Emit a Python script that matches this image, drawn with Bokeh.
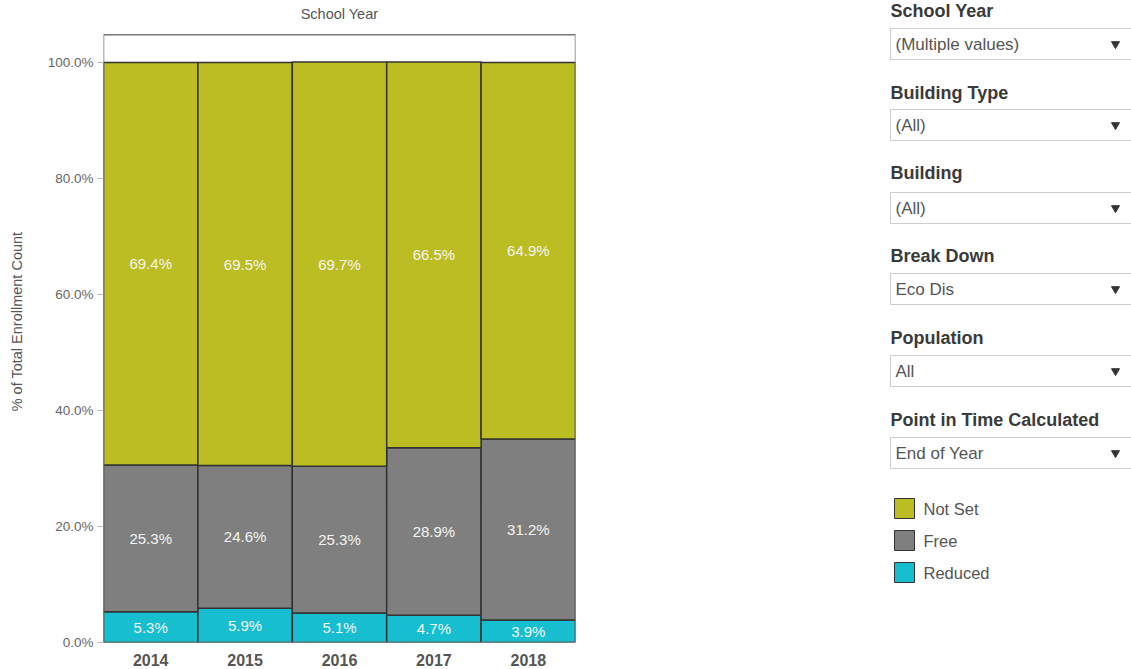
from bokeh.plotting import figure
from bokeh.models import FactorRange, Range1d, FixedTicker, PrintfTickFormatter, ColumnDataSource, BoxAnnotation
from bokeh.layouts import row
from bokeh.core.properties import value
from bokeh.embed import file_html
from bokeh.resources import INLINE

# ---- data ----
years = ["2014", "2015", "2016", "2017", "2018"]
reduced = [5.3, 5.9, 5.1, 4.7, 3.9]
free = [25.3, 24.6, 25.3, 28.9, 31.2]
not_set = [69.4, 69.5, 69.7, 66.5, 64.9]
series = ["Reduced", "Free", "Not Set"]
colors = ["#17becf", "#7f7f7f", "#bcbd22"]
y_ticks = [0, 20, 40, 60, 80, 100]

filter_titles = ["School Year", "Building Type", "Building", "Break Down", "Population",
                 "Point in Time Calculated"]
filter_values = ["(Multiple values)", "(All)", "(All)", "Eco Dis", "All", "End of Year"]

FONT = "Liberation Sans"

# ---- chart ----
src = ColumnDataSource(dict(year=years, Reduced=reduced, Free=free, **{"Not Set": not_set}))

p = figure(x_range=FactorRange(factors=years, range_padding=0), y_range=Range1d(0, 110.7),
           width=870, height=669, output_backend="svg", toolbar_location=None,
           min_border_left=103, min_border_right=295, min_border_top=0, min_border_bottom=27)

p.vbar_stack(series, x="year", width=1.0, source=src, fill_color=colors,
             line_color="#333333", line_width=1.5)

p.add_layout(BoxAnnotation(bottom=0, top=104.8, fill_color=None, fill_alpha=0,
                           line_color="#777777", line_alpha=1.0, line_width=1.5, level="overlay"))

# segment labels, centred in each segment
lx, ly, lt = [], [], []
for i, yr in enumerate(years):
    base = 0.0
    for vals in (reduced, free, not_set):
        v = vals[i]
        lx.append(yr)
        ly.append(base + v / 2.0)
        lt.append(f"{v:.1f}%")
        base += v
p.text(x=lx, y=ly, text=lt, text_align="center", text_baseline="middle",
       text_color="#f4f4f4", text_font=value(FONT), text_font_size="15px")

# column header ("School Year") above the plot box
p.text(x=[years[len(years) // 2]], y=[108.3], text=["School Year"], text_align="center",
       text_baseline="middle", text_color="#555555", text_font=value(FONT),
       text_font_size="14.5px")

p.xgrid.grid_line_color = None
p.ygrid.grid_line_color = None
p.outline_line_color = None

ya = p.yaxis[0]
ya.ticker = FixedTicker(ticks=y_ticks)
ya.formatter = PrintfTickFormatter(format="%.1f%%")
ya.axis_label = "% of Total Enrollment Count"
ya.axis_label_text_font = FONT
ya.axis_label_text_font_style = "normal"
ya.axis_label_text_font_size = "14.5px"
ya.axis_label_text_color = "#555555"
ya.axis_label_standoff = 20
ya.axis_line_color = None
ya.major_tick_out = 6
ya.major_tick_in = 0
ya.major_tick_line_color = "#bbbbbb"
ya.minor_tick_line_color = None
ya.major_label_text_font = FONT
ya.major_label_text_font_size = "13.5px"
ya.major_label_text_color = "#666666"
ya.major_label_standoff = 4

xa = p.xaxis[0]
xa.axis_line_color = None
xa.major_tick_line_color = None
xa.major_label_text_font = FONT
xa.major_label_text_font_style = "bold"
xa.major_label_text_font_size = "16px"
xa.major_label_text_color = "#555555"
xa.major_label_standoff = 5

# ---- filter / legend panel (1 data unit = 1 px, y downwards) ----
q = figure(width=261, height=669, x_range=Range1d(0, 261), y_range=Range1d(642, 0),
           x_axis_type=None, y_axis_type=None, min_border_left=0, min_border_right=0,
           min_border_top=0, min_border_bottom=27, outline_line_color=None,
           toolbar_location=None, output_backend="svg")

head_y = [10, 92, 172, 255, 337, 419]
box_top = [28, 109, 192, 273, 355, 437]
box_h = 31
q.text(x=[20] * len(filter_titles), y=head_y, text=filter_titles, text_align="left",
       text_baseline="middle", text_color="#3a3a3a", text_font=value(FONT),
       text_font_style="bold", text_font_size="18px")
q.quad(left=[20] * len(box_top), right=[270] * len(box_top), top=box_top,
       bottom=[t + box_h for t in box_top], fill_color="white", line_color="#cccccc", line_width=1)
mid = [t + box_h / 2.0 for t in box_top]
q.text(x=[25] * len(filter_values), y=mid, text=filter_values, text_align="left",
       text_baseline="middle", text_color="#555555", text_font=value(FONT), text_font_size="17px")
q.scatter(x=[245] * len(mid), y=mid, marker="inverted_triangle", size=8,
          fill_color="#333333", line_color="#333333")

leg_names = series[::-1]
leg_colors = colors[::-1]
leg_y = [508 + 32 * i for i in range(len(leg_names))]
q.rect(x=[34] * len(leg_names), y=leg_y, width=20, height=20, fill_color=leg_colors,
       line_color="#333333", line_width=1)
q.text(x=[53] * len(leg_names), y=leg_y, text=leg_names, text_align="left",
       text_baseline="middle", text_color="#555555", text_font=value(FONT), text_font_size="16.5px")

layout = row(p, q)
open("out.html", "w").write(file_html(layout, INLINE))
